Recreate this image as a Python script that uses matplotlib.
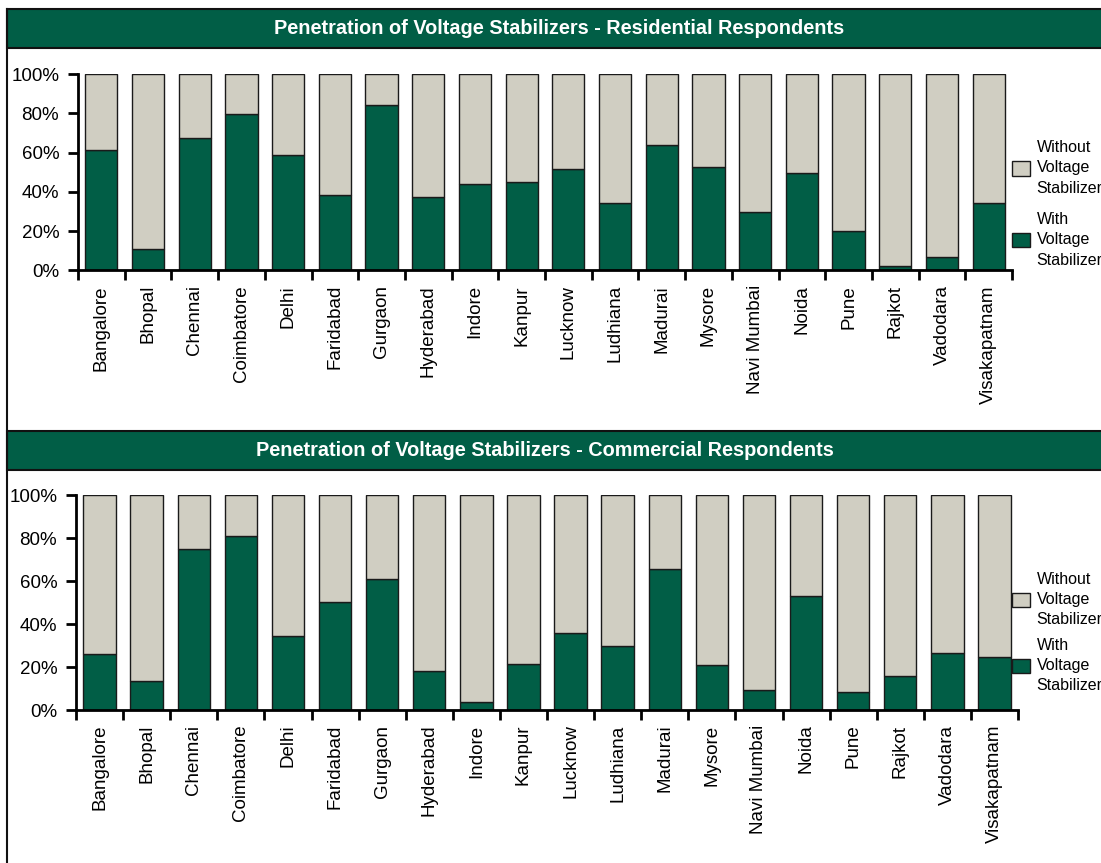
import matplotlib.pyplot as plt
from matplotlib.patches import Rectangle
from matplotlib.lines import Line2D
from matplotlib.ticker import PercentFormatter

plt.rcParams['font.family'] = ['Liberation Sans', 'DejaVu Sans']

VERDE = '#015e46'
GRIS = '#d0cec2'

ciudades = ["Bangalore", "Bhopal", "Chennai", "Coimbatore", "Delhi", "Faridabad",
            "Gurgaon", "Hyderabad", "Indore", "Kanpur", "Lucknow", "Ludhiana",
            "Madurai", "Mysore", "Navi Mumbai", "Noida", "Pune", "Rajkot",
            "Vadodara", "Visakapatnam"]

# % con estabilizador (el resto hasta 100 es "sin")
residencial_con = [61.5, 10.7, 67.3, 79.7, 59.0, 38.3, 84.1, 37.6, 43.9, 45.1,
                   51.4, 34.6, 64.1, 52.9, 29.7, 49.5, 20.2, 2.5, 6.8, 34.1]
comercial_con = [26.0, 13.3, 74.9, 81.1, 34.6, 50.1, 61.1, 18.0, 3.6, 21.4,
                 35.8, 29.9, 65.6, 20.9, 9.5, 53.2, 8.2, 15.7, 26.5, 24.8]

titulos = ["Penetration of Voltage Stabilizers - Residential Respondents",
           "Penetration of Voltage Stabilizers - Commercial Respondents"]

W, H = 1101, 863
fig = plt.figure(figsize=(W / 100, H / 100), dpi=100)


def px(x0, y0, x1, y1):
    # caja en pixeles (origen arriba a la izquierda) -> fraccion de figura
    return [x0 / W, 1 - y1 / H, (x1 - x0) / W, (y1 - y0) / H]


def barra_titulo(y0, y1, texto, xc):
    fig.patches.append(Rectangle((7 / W, 1 - y1 / H), (W + 10) / W, (y1 - y0) / H,
                                 transform=fig.transFigure, facecolor=VERDE,
                                 edgecolor='#111111', linewidth=1.5, zorder=1))
    fig.text(xc / W, 1 - (y0 + y1) / 2 / H, texto, color='white', fontsize=14.3,
             fontweight='bold', ha='center', va='center')


def panel(caja, con, leg_top, sep):
    ax = fig.add_axes(px(*caja))
    x = range(len(ciudades))
    sin = [100 - v for v in con]
    b1 = ax.bar(x, con, width=0.69, color=VERDE, edgecolor='#1a1a1a', linewidth=1.0)
    b2 = ax.bar(x, sin, bottom=con, width=0.69, color=GRIS, edgecolor='#1a1a1a',
                linewidth=1.0)
    ax.set_xlim(-0.5, len(ciudades) - 0.5)
    ax.set_ylim(0, 100)
    ax.set_yticks([0, 20, 40, 60, 80, 100])
    ax.yaxis.set_major_formatter(PercentFormatter(decimals=0))
    ax.set_xticks(list(x))
    ax.set_xticklabels(ciudades, rotation=90, ha='center', va='top')
    ax.set_xticks([i - 0.5 for i in range(len(ciudades) + 1)], minor=True)
    ax.tick_params(axis='x', which='major', length=0, pad=10.5, labelsize=13.5)
    ax.tick_params(axis='x', which='minor', length=7, width=2, direction='out')
    ax.tick_params(axis='y', length=7, width=2, pad=6.5, labelsize=13.5)
    for s in ['top', 'right']:
        ax.spines[s].set_visible(False)
    for s in ['left', 'bottom']:
        ax.spines[s].set_linewidth(2)
    leg = ax.legend([b2, b1], ["Without\nVoltage\nStabilizers", "With\nVoltage\nStabilizers"],
                    loc='upper left', bbox_to_anchor=(1012 / W, 1 - leg_top / H),
                    bbox_transform=fig.transFigure, frameon=False, fontsize=11.5,
                    borderpad=0, borderaxespad=0, handlelength=1.1, handleheight=1.0,
                    handletextpad=0.45, labelspacing=sep)
    for t in leg.get_texts():
        t.set_linespacing(1.45)
    return ax


barra_titulo(9, 48.5, titulos[0], 559)
barra_titulo(431, 470.5, titulos[1], 545)
fig.add_artist(Line2D([7 / W, 7 / W], [1 - 9 / H, 0], transform=fig.transFigure,
                      color='#111111', linewidth=1.5))

panel((78, 74, 1012, 270.5), residencial_con, 140, 1.0)
panel((76, 495, 1018, 710), comercial_con, 571.5, 0.65)

fig.savefig('out.png', dpi=100)
